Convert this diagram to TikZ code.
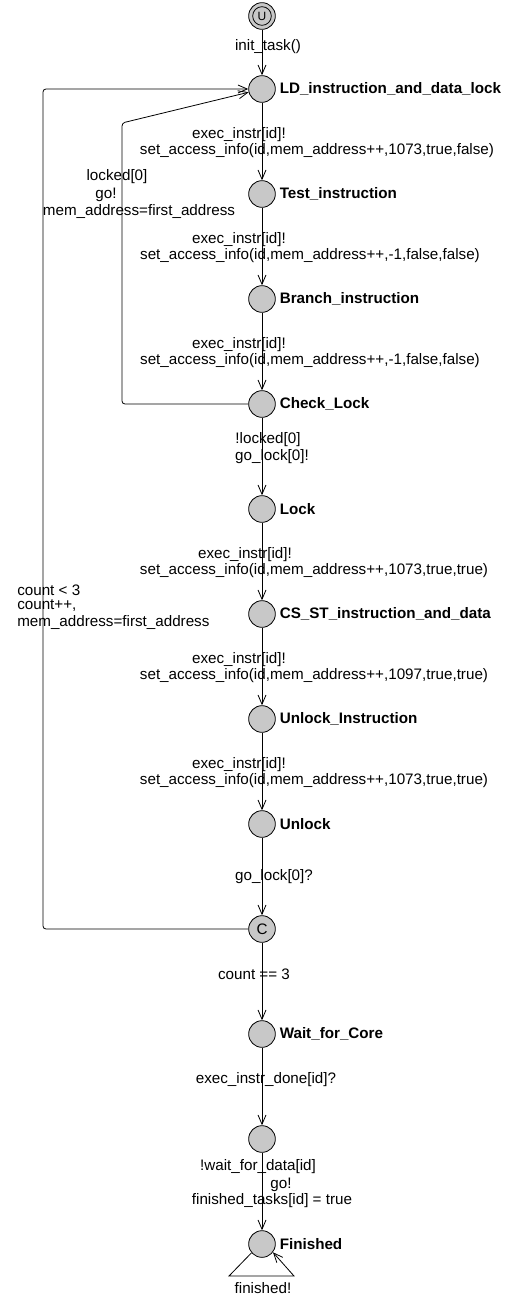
\documentclass[tikz,border=0pt]{standalone}
\usepackage{fontspec}
\setmainfont{Liberation Sans}
\usetikzlibrary{arrows.meta}
\definecolor{locgray}{RGB}{200,200,200}

\begin{document}
\begin{tikzpicture}[x=0.75pt, y=-0.75pt, node distance=78.75pt, label distance=-0.5pt,
    font=\fontsize{11.4}{13}\selectfont,
    loc/.style={draw, circle, fill=locgray, minimum size=20pt, inner sep=0pt, line width=0.6pt},
    trans/.style={draw, line width=0.6pt, -{Straight Barb[length=7pt,width=6pt]}},
    lbl/.style={inner sep=0pt},
    every label/.style={font=\fontsize{11.4}{13}\selectfont\bfseries}]
    \useasboundingbox (0,0) rectangle (517,1298);

    % locations
    \node [loc] (init) at (262,16) {\fontsize{9}{9}\selectfont U};
    \draw [line width=0.6pt] (init) circle[radius=7pt];
    \node [loc, label=right:LD\_instruction\_and\_data\_lock] (ld) at (262,89) {};
    \node [loc, below of=ld, label=right:Test\_instruction] (test) {};
    \node [loc, below of=test, label=right:Branch\_instruction] (branch) {};
    \node [loc, below of=branch, label=right:Check\_Lock] (chk) {};
    \node [loc, below of=chk, label=right:Lock] (lock) {};
    \node [loc, below of=lock, label=right:CS\_ST\_instruction\_and\_data] (csst) {};
    \node [loc, below of=csst, label=right:Unlock\_Instruction] (unlins) {};
    \node [loc, below of=unlins, label=right:Unlock] (unlock) {};
    \node [loc, below of=unlock] (commit) {C};
    \node [loc, below of=commit, label=right:Wait\_for\_Core] (wait) {};
    \node [loc, below of=wait] (mid) {};
    \node [loc, below of=mid, label=right:Finished] (fin) {};

    % transitions
    \path [trans] (init) -- (ld);
    \path [trans] (ld) -- (test);
    \path [trans] (test) -- (branch);
    \path [trans] (branch) -- (chk);
    \path [trans] (chk) -- (lock);
    \path [trans] (lock) -- (csst);
    \path [trans] (csst) -- (unlins);
    \path [trans] (unlins) -- (unlock);
    \path [trans] (unlock) -- (commit);
    \path [trans] (commit) -- (wait);
    \path [trans] (wait) -- (mid);
    \path [trans] (mid) -- (fin);
    \path [trans, rounded corners=2.25pt] (chk) -- (122,404) -- (122,123) -- (ld);
    \path [trans, rounded corners=2.25pt] (commit) -- (43,929) -- (43,89) -- (ld);
    \path [trans] (fin.220) -- (229,1276) -- (294,1276) -- (fin.-37);

    % guards, syncs and updates
    \node [lbl] (l0) at (268,47) {init\_task()};
    \node [lbl] (s1) at (239,135) {exec\_instr[id]!};
    \node [lbl] (u1) at (317,151) {set\_access\_info(id,mem\_address++,1073,true,false)};
    \node [lbl] (s2) at (239,240) {exec\_instr[id]!};
    \node [lbl] (u2) at (310,256) {set\_access\_info(id,mem\_address++,-1,false,false)};
    \node [lbl] (s3) at (239,345) {exec\_instr[id]!};
    \node [lbl] (u3) at (310,361) {set\_access\_info(id,mem\_address++,-1,false,false)};
    \node [lbl] (gb) at (117,177) {locked[0]};
    \node [lbl] (sb) at (106,195) {go!};
    \node [lbl] (ub) at (139,212) {mem\_address=first\_address};
    \node [lbl] (g4) at (268,440) {!locked[0]};
    \node [lbl] (s4) at (272,457) {go\_lock[0]!};
    \node [lbl] (s5) at (245,555) {exec\_instr[id]!};
    \node [lbl] (u5) at (314,571) {set\_access\_info(id,mem\_address++,1073,true,true)};
    \node [lbl] (s6) at (239,660) {exec\_instr[id]!};
    \node [lbl] (u6) at (314,676) {set\_access\_info(id,mem\_address++,1097,true,true)};
    \node [lbl] (s7) at (239,765) {exec\_instr[id]!};
    \node [lbl] (u7) at (314,781) {set\_access\_info(id,mem\_address++,1073,true,true)};
    \node [lbl] (s8) at (274,877) {go\_lock[0]?};
    \node [lbl, anchor=west] (gc) at (17,590) {count < 3};
    \node [lbl, anchor=west] (uc1) at (17,606) {count++,};
    \node [lbl, anchor=west] (uc2) at (17,622) {mem\_address=first\_address};
    \node [lbl] (g9) at (254,974) {count == 3};
    \node [lbl] (s10) at (266,1080) {exec\_instr\_done[id]?};
    \node [lbl] (g11) at (258,1167) {!wait\_for\_data[id]};
    \node [lbl] (s11) at (281,1185) {go!};
    \node [lbl] (u11) at (272,1201) {finished\_tasks[id] = true};
    \node [lbl] (s12) at (263,1288) {finished!};
\end{tikzpicture}
\end{document}
